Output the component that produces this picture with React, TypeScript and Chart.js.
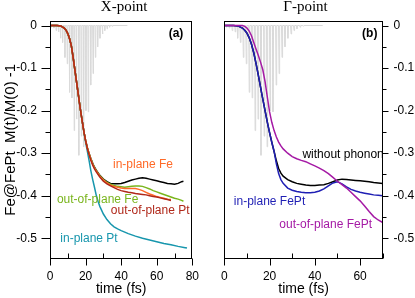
import React, { useEffect, useRef } from "react";
import { Chart, registerables } from "chart.js";
Chart.register(...registerables);

const SANS = "'Liberation Sans', Arial, Helvetica, sans-serif";
const SERIF = "'Liberation Serif', 'Times New Roman', serif";

// ---------- laser pulse (gray spikes) ----------
const pulseSpikeTime = [0.9, 2.2, 3.5, 4.8, 5.9, 7.1, 8.4, 9.7, 11.0, 12.3, 13.6, 14.9, 16.2, 17.6, 18.9, 20.2, 21.5, 22.9, 24.2, 25.5, 26.8, 28.1, 29.5, 30.8, 32.1, 33.5, 35.0];
const pulseSpikeDepth = [-0.004, -0.006, -0.012, -0.015, -0.03, -0.04, -0.075, -0.09, -0.157, -0.17, -0.247, -0.22, -0.305, -0.26, -0.285, -0.2, -0.203, -0.14, -0.113, -0.075, -0.05, -0.03, -0.02, -0.012, -0.008, -0.004, -0.002];
const pulseEndTime = 43.5;

// ---------- X-point ----------
const xEarlyTime = [0, 4, 6, 8, 9, 10, 11, 12, 13, 14, 15, 16, 17, 18, 19, 20];
const xEarlyValue = [0, 0, -0.001, -0.006, -0.011, -0.019, -0.031, -0.048, -0.075, -0.105, -0.135, -0.165, -0.195, -0.222, -0.248, -0.27];

const xLateTime = [21, 22, 23, 24, 25, 26, 28, 30, 32, 34, 36, 38, 40, 42, 44, 46, 48, 50, 52, 54, 56, 58, 60, 62, 64, 66, 68, 70, 72, 74, 75];
const outPlanePt = [-0.289, -0.304, -0.317, -0.328, -0.337, -0.344, -0.356, -0.366, -0.372, -0.377, -0.381, -0.385, -0.388, -0.39, -0.392, -0.393, -0.395, -0.396, -0.397, -0.398, -0.4, -0.402, -0.403, -0.405, -0.407, -0.409, -0.411];
const inPlaneFe = [-0.288, -0.302, -0.315, -0.326, -0.335, -0.342, -0.354, -0.363, -0.37, -0.375, -0.378, -0.38, -0.382, -0.383, -0.383, -0.383, -0.383, -0.385, -0.388, -0.392, -0.396, -0.399, -0.402, -0.404, -0.406, -0.408, -0.409];
const outPlaneFe = [-0.288, -0.302, -0.314, -0.325, -0.334, -0.341, -0.353, -0.362, -0.369, -0.373, -0.376, -0.378, -0.379, -0.38, -0.379, -0.378, -0.377, -0.377, -0.378, -0.381, -0.384, -0.388, -0.391, -0.394, -0.397, -0.4, -0.403, -0.406, -0.408, -0.411, -0.413];
const xNoPhonon = [-0.287, -0.301, -0.313, -0.324, -0.333, -0.34, -0.352, -0.361, -0.367, -0.371, -0.372, -0.372, -0.371, -0.369, -0.366, -0.363, -0.361, -0.359, -0.358, -0.359, -0.361, -0.363, -0.365, -0.367, -0.369, -0.371, -0.372, -0.373, -0.371, -0.367, -0.366];

const inPlanePtTime = [20, 21, 22, 23, 24, 25, 26, 27, 28, 30, 32, 34, 36, 38, 40, 44, 48, 52, 56, 60, 64, 68, 72, 76, 77];
const inPlanePt = [-0.274, -0.296, -0.318, -0.342, -0.362, -0.38, -0.399, -0.413, -0.425, -0.443, -0.456, -0.466, -0.473, -0.478, -0.482, -0.489, -0.495, -0.5, -0.504, -0.508, -0.512, -0.515, -0.519, -0.522, -0.523];

// ---------- Gamma-point ----------
const gEarlyTime = [0, 4, 6, 8, 9, 10, 11, 12, 13, 14, 15, 16, 17, 18, 19, 20, 21, 22];
const gEarlyValue = [0, 0, -0.001, -0.006, -0.011, -0.018, -0.029, -0.044, -0.064, -0.089, -0.116, -0.145, -0.173, -0.2, -0.227, -0.252, -0.275, -0.296];
const gLateTime = [23, 24, 25, 26, 28, 30, 32, 34, 36, 38, 40, 42, 44, 46, 48, 50, 52, 54, 56, 58, 60, 62, 64, 66, 68, 70];
const gNoPhonon = [-0.318, -0.336, -0.347, -0.354, -0.362, -0.367, -0.371, -0.373, -0.375, -0.376, -0.376, -0.375, -0.374, -0.371, -0.367, -0.363, -0.361, -0.362, -0.363, -0.364, -0.365, -0.366, -0.367, -0.369, -0.37, -0.371];
const inPlaneFePt = [-0.325, -0.348, -0.362, -0.371, -0.382, -0.387, -0.39, -0.392, -0.393, -0.393, -0.392, -0.389, -0.384, -0.377, -0.37, -0.367, -0.372, -0.379, -0.385, -0.389, -0.392, -0.394, -0.396, -0.398, -0.399, -0.4];

const outPlaneFePtTime = [0, 4, 8, 9, 10, 11, 12, 13, 14, 15, 16, 17, 18, 19, 20, 21, 22, 23, 24, 25, 26, 28, 30, 32, 34, 36, 38, 40, 42, 44, 46, 48, 50, 52, 54, 56, 58, 60, 62, 64, 66, 68, 70];
const outPlaneFePt = [0, 0, 0, -0.002, -0.006, -0.013, -0.024, -0.04, -0.055, -0.07, -0.086, -0.104, -0.132, -0.168, -0.203, -0.228, -0.247, -0.262, -0.274, -0.283, -0.29, -0.3, -0.308, -0.313, -0.317, -0.32, -0.325, -0.33, -0.335, -0.341, -0.348, -0.357, -0.366, -0.374, -0.382, -0.392, -0.402, -0.412, -0.424, -0.437, -0.449, -0.457, -0.463];

// ---------- axes ----------
const yTickValues = [0, -0.05, -0.1, -0.15, -0.2, -0.25, -0.3, -0.35, -0.4, -0.45, -0.5];
const xTickValues = [0, 10, 20, 30, 40, 50, 60, 70, 80];
const yMin = -0.5475;
const yMax = 0.0106;

function pts(time: number[], value: number[]) {
  return time.slice(0, value.length).map((t, i) => ({ x: t, y: value[i] }));
}

function pulsePoints() {
  const out: { x: number; y: number }[] = [{ x: 0, y: 0 }];
  pulseSpikeTime.forEach((t, i) => {
    out.push({ x: t - 0.25, y: 0 });
    out.push({ x: t, y: pulseSpikeDepth[i] });
    out.push({ x: t + 0.25, y: 0 });
  });
  out.push({ x: pulseEndTime, y: 0 });
  return out;
}

type Note = { text: string; t: number; v: number; color: string; bold?: boolean };
type Series = { data: { x: number; y: number }[]; color: string; width: number };
type Spec = {
  title: string;
  titleDx: number;
  xMax: number;
  side: "left" | "right";
  notes: Note[];
  series: Series[];
};

const C_FE_IN = "#ff6a28";
const C_FE_OUT = "#7ab51d";
const C_PT_OUT = "#b0281a";
const C_PT_IN = "#1796ad";
const C_BLUE = "#1f1fb4";
const C_MAG = "#a51aa5";
const C_GRAY = "#dadada";

const leftSpec: Spec = {
  title: "X-point",
  titleDx: 3,
  xMax: 80,
  side: "left",
  notes: [
    { text: "in-plane Fe", t: 35.4, v: -0.3266, color: C_FE_IN },
    { text: "out-of-plane Fe", t: 3.9, v: -0.41, color: C_FE_OUT },
    { text: "out-of-plane Pt", t: 34.2, v: -0.4347, color: C_PT_OUT },
    { text: "in-plane Pt", t: 5.8, v: -0.5, color: C_PT_IN },
    { text: "(a)", t: 66.7, v: -0.0182, color: "#000", bold: true },
  ],
  series: [
    { data: [...pts(xEarlyTime, xEarlyValue), ...pts(xLateTime, outPlanePt)], color: C_PT_OUT, width: 1.5 },
    { data: [...pts(xEarlyTime, xEarlyValue), ...pts(xLateTime, inPlaneFe)], color: C_FE_IN, width: 1.5 },
    { data: [...pts(xEarlyTime, xEarlyValue), ...pts(xLateTime, outPlaneFe)], color: C_FE_OUT, width: 1.5 },
    { data: [...pts(xEarlyTime, xEarlyValue), ...pts(xLateTime, xNoPhonon)], color: "#000", width: 1.5 },
    { data: [...pts(xEarlyTime.slice(0, -1), xEarlyValue), ...pts(inPlanePtTime, inPlanePt)], color: C_PT_IN, width: 1.5 },
    { data: pulsePoints(), color: C_GRAY, width: 1 },
  ],
};

const rightSpec: Spec = {
  title: "\u0393-point",
  titleDx: 2,
  xMax: 70,
  side: "right",
  notes: [
    { text: "without phonon", t: 34.5, v: -0.3042, color: "#000" },
    { text: "in-plane FePt", t: 4.2, v: -0.414, color: C_BLUE },
    { text: "out-of-plane FePt", t: 24.3, v: -0.4687, color: C_MAG },
    { text: "(b)", t: 60.9, v: -0.0182, color: "#000", bold: true },
  ],
  series: [
    { data: pts(outPlaneFePtTime, outPlaneFePt), color: C_MAG, width: 1.5 },
    { data: [...pts(gEarlyTime, gEarlyValue), ...pts(gLateTime, inPlaneFePt)], color: C_BLUE, width: 1.5 },
    { data: [...pts(gEarlyTime, gEarlyValue), ...pts(gLateTime, gNoPhonon)], color: "#000", width: 1.5 },
    { data: pulsePoints(), color: C_GRAY, width: 1 },
  ],
};

function makeDecor(spec: Spec) {
  return {
    id: "decor",
    afterDraw(chart: any) {
      const { ctx, chartArea: a } = chart;
      const xs = chart.scales.x;
      const ys = chart.scales.y;
      ctx.save();
      ctx.strokeStyle = "#000";
      ctx.lineWidth = 1;
      const L = Math.round(a.left) + 0.5;
      const R = Math.round(a.right) - 0.5;
      const T = Math.round(a.top) + 0.5;
      const B = Math.round(a.bottom) - 0.5;
      ctx.strokeRect(L, T, R - L, B - T);
      ctx.beginPath();
      for (const v of yTickValues) {
        const y = Math.round(ys.getPixelForValue(v)) + 0.5;
        const major = Math.abs(Math.round(v * 10) - v * 10) < 1e-6;
        if (spec.side === "left") {
          const len = major ? 9 : 5;
          ctx.moveTo(L, y);
          ctx.lineTo(L - len, y);
        } else {
          const len = major ? 6 : 4;
          ctx.moveTo(R, y);
          ctx.lineTo(R + len, y);
        }
      }
      for (const t of xTickValues) {
        if (t > spec.xMax) continue;
        const x = Math.round(xs.getPixelForValue(t)) + 0.5;
        const major = t % 20 === 0;
        if (major) {
          ctx.moveTo(x, B);
          ctx.lineTo(x, B + 7);
        } else {
          ctx.moveTo(x, B);
          ctx.lineTo(x, B - 5);
        }
      }
      ctx.stroke();
      ctx.fillStyle = "#000";
      ctx.font = `15px ${SERIF}`;
      ctx.textAlign = "center";
      ctx.textBaseline = "alphabetic";
      ctx.fillText(spec.title, (a.left + a.right) / 2 + spec.titleDx, 11);
      ctx.textAlign = "left";
      ctx.textBaseline = "middle";
      for (const n of spec.notes) {
        ctx.font = `${n.bold ? "bold " : ""}12px ${SANS}`;
        ctx.fillStyle = n.color;
        ctx.fillText(n.text, xs.getPixelForValue(n.t), ys.getPixelForValue(n.v));
      }
      ctx.restore();
    },
  };
}

function buildChart(canvas: HTMLCanvasElement, spec: Spec) {
  const isLeft = spec.side === "left";
  const tickFont = { family: SANS, size: 12 };
  return new Chart(canvas, {
    type: "line",
    data: {
      datasets: spec.series.map((s) => ({
        data: s.data,
        borderColor: s.color,
        borderWidth: s.width,
        pointRadius: 0,
        fill: false,
        tension: 0,
      })),
    },
    options: {
      responsive: false,
      animation: false,
      devicePixelRatio: 1,
      parsing: false as any,
      layout: {
        padding: isLeft ? { left: 0, right: 8, top: 21, bottom: 0 } : { left: 9.6, right: 0, top: 21, bottom: 0 },
      },
      plugins: { legend: { display: false }, tooltip: { enabled: false }, title: { display: false } },
      scales: {
        x: {
          type: "linear",
          min: 0,
          max: spec.xMax,
          grid: { display: false, drawTicks: false },
          border: { display: false },
          ticks: {
            stepSize: 20,
            includeBounds: false,
            padding: 11,
            color: "#000",
            font: tickFont,
            maxRotation: 0,
            autoSkip: false,
            callback: (v: any) => String(v),
          },
          title: { display: true, text: "time (fs)", color: "#000", font: { family: SANS, size: 14 }, padding: { top: 0, bottom: 0 } },
          afterFit: (s: any) => {
            s.height = 39.5;
          },
        },
        y: {
          type: "linear",
          position: spec.side,
          min: yMin,
          max: yMax,
          grid: { display: false, drawTicks: false },
          border: { display: false },
          ticks: {
            stepSize: 0.1,
            includeBounds: false,
            padding: isLeft ? 13 : 10.8,
            color: "#000",
            font: tickFont,
            callback: (v: any) => (Math.abs(Number(v)) < 1e-9 ? "0" : Number(v).toFixed(1)),
          },
          title: {
            display: isLeft,
            text: "Fe@FePt  M(t)/M(0) -1",
            color: "#000",
            font: { family: SANS, size: 15 },
            padding: { top: 2, bottom: 0 },
          },
          afterFit: (s: any) => {
            s.width = isLeft ? 50 : 32.3;
          },
        },
      },
    } as any,
    plugins: [makeDecor(spec)],
  });
}

export default function App() {
  const leftRef = useRef<HTMLCanvasElement>(null);
  const rightRef = useRef<HTMLCanvasElement>(null);
  useEffect(() => {
    const c1 = buildChart(leftRef.current!, leftSpec);
    const c2 = buildChart(rightRef.current!, rightSpec);
    return () => {
      c1.destroy();
      c2.destroy();
    };
  }, []);
  return (
    <div style={{ position: "fixed", left: 0, top: 0, width: 415, height: 298, background: "#fff" }}>
      <canvas ref={leftRef} width={210} height={298} style={{ position: "absolute", left: 0, top: 0, width: 210, height: 298 }} />
      <canvas ref={rightRef} width={205} height={298} style={{ position: "absolute", left: 210, top: 0, width: 205, height: 298 }} />
    </div>
  );
}
